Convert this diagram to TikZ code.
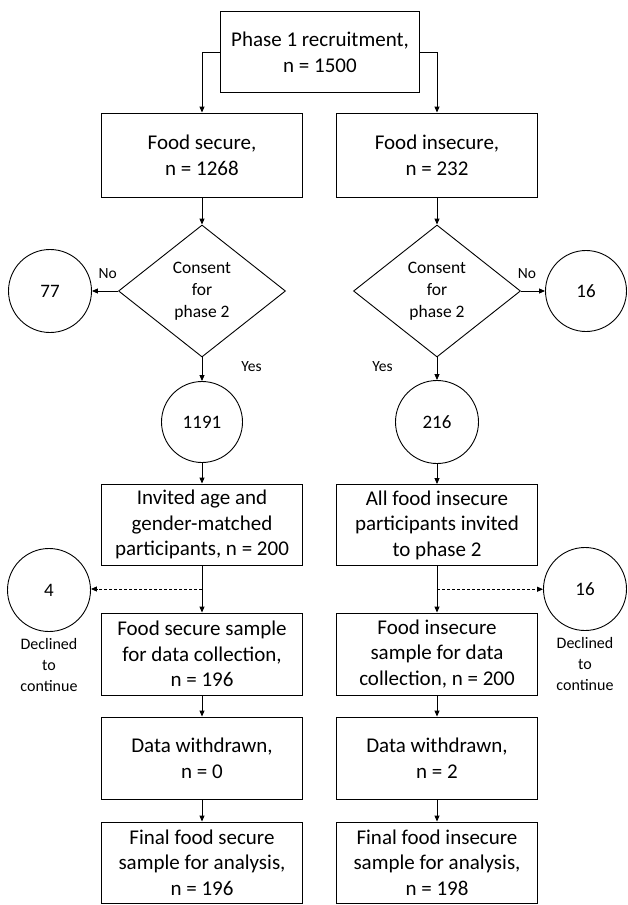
\documentclass[tikz,border=0pt]{standalone}
\usepackage{fontspec}
\setmainfont{Carlito}
\usetikzlibrary{arrows.meta,shapes.geometric,positioning}

\begin{document}
\begin{tikzpicture}[x=1pt,y=-1pt]
  \tikzstyle{box} = [draw, line width=0.9pt, minimum width=201pt, minimum height=82pt, align=center, inner sep=2pt, font=\fontsize{21}{25.6}\selectfont]
  \tikzstyle{dec} = [draw, diamond, line width=0.9pt, minimum width=167pt, minimum height=132pt, inner sep=0pt, align=center, font=\fontsize{17.5}{22}\selectfont]
  \tikzstyle{num} = [draw, circle, line width=0.9pt, minimum size=83pt, inner sep=0pt, font=\fontsize{19}{23}\selectfont]
  \tikzstyle{lbl} = [inner sep=0pt, font=\fontsize{15.5}{19}\selectfont]
  \tikzstyle{note} = [inner sep=0pt, align=center, font=\fontsize{16}{21}\selectfont]
  \tikzstyle{arr} = [line width=0.9pt, -{Triangle[length=6pt,width=5pt]}]
  \useasboundingbox (0,0) rectangle (627,905);

  % recruitment and split
  \node[box, minimum width=199pt, minimum height=81pt] (top) at (320,52) {Phase 1 recruitment,\\n = 1500};
  \node[box, minimum height=84pt] (fs) at (202,155) {Food secure,\\n = 1268};
  \node[box, minimum height=84pt] (fi) at (437,155) {Food insecure,\\n = 232};

  % consent
  \node[dec] (dl) at (202,291) {Consent\\for\\phase 2};
  \node[dec] (dr) at (437,291) {Consent\\for\\phase 2};
  \node[num] (c77) at (50,291) {77};
  \node[num, minimum size=81pt] (c16a) at (586,291) {16};
  \node[num, minimum size=81pt] (c1191) at (202,422) {1191};
  \node[num] (c216) at (437,422) {216};

  % phase 2
  \node[box, minimum height=81pt] (inv) at (202,524.5) {Invited age and\\gender-matched\\participants, n = 200};
  \node[box, minimum height=81pt] (all) at (437,525) {All food insecure\\participants invited\\to phase 2};
  \node[box] (fss) at (202,654) {Food secure sample\\for data collection,\\n = 196};
  \node[box] (fis) at (437,654) {Food insecure\\sample for data\\collection, n = 200};
  \node[num] (c4) at (49,590) {4};
  \node[num] (c16b) at (585,589) {16};
  \node[note, below=6pt of c4] (d4) {Declined\\to\\continue};
  \node[note, below=6pt of c16b] (d16) {Declined\\to\\continue};

  % analysis
  \node[box] (dw1) at (202,758) {Data withdrawn,\\n = 0};
  \node[box] (dw2) at (437,758) {Data withdrawn,\\n = 2};
  \node[box, minimum height=81pt] (fin1) at (202,862.5) {Final food secure\\sample for analysis,\\n = 196};
  \node[box, minimum height=81pt] (fin2) at (437,862.5) {Final food insecure\\sample for analysis,\\n = 198};

  \draw[arr] (top.west) -| (fs.north);
  \draw[arr] (top.east) -| (fi.north);
  \draw[arr] (fs.south) -- (dl.north);
  \draw[arr] (fi.south) -- (dr.north);
  \draw[arr] (dl.west) -- node[lbl, above=12pt, pos=0.4] {No} (c77.east);
  \draw[arr] (dr.east) -- node[lbl, above=12pt, pos=0.25] {No} (c16a.west);
  \draw[arr] (dl.south) -- node[lbl, right=39pt, pos=0.4] {Yes} (c1191.north);
  \draw[arr] (dr.south) -- node[lbl, left=44pt, pos=0.4] {Yes} (c216.north);
  \draw[arr] (c1191.south) -- (inv.north);
  \draw[arr] (c216.south) -- (all.north);
  \draw[arr] (inv.south) -- coordinate[midway] (m1) (fss.north);
  \draw[arr] (all.south) -- coordinate[midway] (m2) (fis.north);
  \draw[arr, dash pattern=on 3pt off 2pt] (m1) -- (m1 -| c4.east);
  \draw[arr, dash pattern=on 3pt off 2pt] (m2) -- (m2 -| c16b.west);
  \foreach \a/\b in {fss/dw1, dw1/fin1, fis/dw2, dw2/fin2}
    \draw[arr] (\a.south) -- (\b.north);
\end{tikzpicture}
\end{document}
